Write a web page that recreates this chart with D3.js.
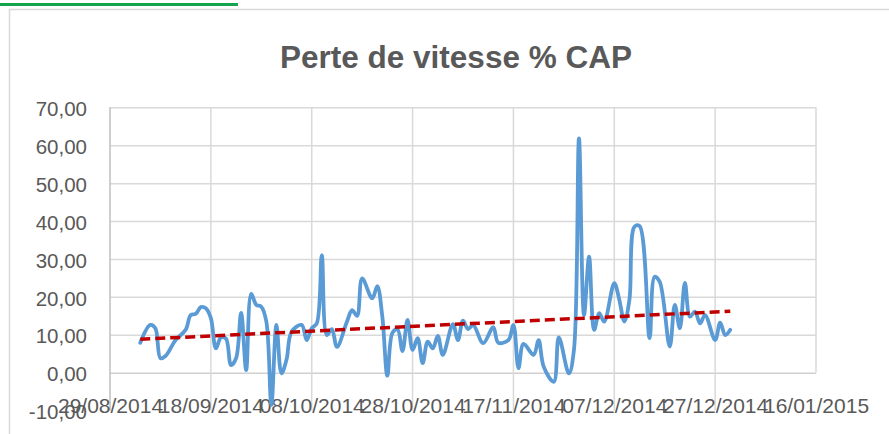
<!DOCTYPE html>
<html>
<head>
<meta charset="utf-8">
<script src="https://cdn.jsdelivr.net/npm/d3@7"></script>
<style>
  html, body { margin: 0; padding: 0; background: #fff; }
  svg { display: block; }
</style>
</head>
<body>
<svg id="chart" width="889" height="434"></svg>
<script>
// ---- data ----
const title = "Perte de vitesse % CAP";
const dates = [
  "04/09/2014","06/09/2014","07/09/2014","08/09/2014","09/09/2014","11/09/2014","13/09/2014","14/09/2014",
  "15/09/2014","16/09/2014","17/09/2014","18/09/2014","19/09/2014","20/09/2014","21/09/2014","22/09/2014",
  "23/09/2014","24/09/2014","25/09/2014","26/09/2014","27/09/2014","28/09/2014","29/09/2014","30/09/2014",
  "01/10/2014","02/10/2014","03/10/2014","04/10/2014","06/10/2014","07/10/2014","08/10/2014","09/10/2014",
  "10/10/2014","11/10/2014","12/10/2014","13/10/2014","15/10/2014","16/10/2014","17/10/2014","18/10/2014",
  "20/10/2014","21/10/2014","22/10/2014","23/10/2014","24/10/2014","25/10/2014","26/10/2014","27/10/2014",
  "28/10/2014","29/10/2014","30/10/2014","31/10/2014","01/11/2014","02/11/2014","03/11/2014","05/11/2014",
  "06/11/2014","07/11/2014","08/11/2014","09/11/2014","11/11/2014","13/11/2014","14/11/2014","16/11/2014",
  "17/11/2014","18/11/2014","19/11/2014","21/11/2014","22/11/2014","23/11/2014","25/11/2014","26/11/2014",
  "28/11/2014","29/11/2014","30/11/2014","01/12/2014","02/12/2014","03/12/2014","04/12/2014","05/12/2014",
  "07/12/2014","08/12/2014","09/12/2014","10/12/2014","11/12/2014","12/12/2014","14/12/2014","15/12/2014",
  "16/12/2014","18/12/2014","19/12/2014","20/12/2014","21/12/2014","22/12/2014","23/12/2014","24/12/2014",
  "25/12/2014","27/12/2014","28/12/2014","29/12/2014","30/12/2014"
];
const values = [
  7.9, 12.6, 11.7, 3.8, 4.4, 8.6, 11.3, 15.2,
  15.5, 17.3, 17.0, 14.4, 6.4, 9.3, 9.0, 2.0,
  3.8, 15.8, 0.7, 20.8, 17.9, 17.4, 13.5, -8.5,
  12.6, -0.2, 3.4, 10.8, 12.6, 8.6, 11.7, 13.0,
  31.0, 9.9, 11.5, 6.8, 13.5, 16.5, 15.0, 24.9,
  19.6, 22.8, 14.8, -0.8, 10.5, 11.5, 5.7, 13.9,
  6.0, 9.1, 2.5, 8.2, 6.4, 9.7, 4.7, 12.8,
  8.6, 13.7, 11.5, 12.6, 7.8, 12.0, 7.9, 8.6,
  12.6, 1.2, 7.6, 4.7, 8.6, 1.6, -2.4, 9.3,
  -0.2, 6.0, 61.8, 15.2, 30.6, 11.3, 15.7, 13.5,
  23.6, 19.2, 13.5, 19.2, 38.5, 38.7, 9.1, 25.3,
  24.0, 6.9, 17.9, 11.7, 23.7, 14.8, 16.1, 13.0,
  15.2, 8.6, 13.2, 9.9, 11.3
];
const xTickLabels = ["29/08/2014","18/09/2014","08/10/2014","28/10/2014","17/11/2014","07/12/2014","27/12/2014","16/01/2015"];
const yTicks = [-10, 0, 10, 20, 30, 40, 50, 60, 70];

// ---- drawing ----
(function () {
const parse = d3.timeParse("%d/%m/%Y");
const data = dates.map((d, i) => ({ date: parse(d), value: values[i] }));
const xTickDates = xTickLabels.map(parse);

const svg = d3.select("#chart");
const pL = 110, pR = 816, pT = 107.3, pB = 410.6;

const x = d3.scaleTime().domain([xTickDates[0], xTickDates[xTickDates.length - 1]]).range([pL, pR]);
const y = d3.scaleLinear().domain([-10, 70]).range([pB, pT]);

const fontFam = "'Liberation Sans', Arial, sans-serif";
const textCol = "#595959";

// top green strip and chart frame
svg.append("rect").attr("x", 0).attr("y", 3).attr("width", 238).attr("height", 3).attr("fill", "#14a44d");
svg.append("path").attr("d", "M9.5,440 V9.5 H895").attr("fill", "none").attr("stroke", "#d9d9d9").attr("stroke-width", 1.5);

// title
svg.append("text").attr("x", 456).attr("y", 68).attr("text-anchor", "middle")
  .attr("font-family", fontFam).attr("font-weight", "bold").attr("font-size", 31.5)
  .attr("fill", textCol).text(title);

// horizontal gridlines + y labels
const yAxisG = svg.append("g").attr("transform", `translate(${pL},0)`)
  .call(d3.axisLeft(y).tickValues(yTicks).tickSize(-(pR - pL)).tickPadding(23)
    .tickFormat(d => d3.format(".2f")(d).replace(".", ",").replace("\u2212", "-")));
yAxisG.select(".domain").remove();
yAxisG.selectAll(".tick line")
  .attr("stroke", d => d === 0 ? "#d0d0d0" : "#d9d9d9")
  .attr("stroke-width", 1.5)
  .attr("display", d => d === -10 ? "none" : null);
yAxisG.selectAll(".tick text")
  .attr("font-family", fontFam).attr("font-size", 20.5).attr("fill", textCol).attr("dy", "0.4em");

// vertical gridlines
svg.append("g").selectAll("line").data(xTickDates.slice(1)).join("line")
  .attr("x1", d => x(d)).attr("x2", d => x(d))
  .attr("y1", pT).attr("y2", (d, i) => i === xTickDates.length - 2 ? y(0) : pB)
  .attr("stroke", "#d9d9d9").attr("stroke-width", 1.5);

// left axis line
svg.append("line").attr("x1", pL).attr("x2", pL).attr("y1", pT).attr("y2", pB)
  .attr("stroke", "#bfbfbf").attr("stroke-width", 1.5);

// x labels (low position, overlapping the -10 row as in the reference)
const xAxisG = svg.append("g").attr("transform", `translate(0,${pB - 5})`)
  .call(d3.axisBottom(x).tickValues(xTickDates).tickSize(0).tickPadding(0)
    .tickFormat((d, i) => xTickLabels[i]));
xAxisG.select(".domain").remove();
xAxisG.selectAll(".tick text")
  .attr("font-family", fontFam).attr("font-size", 21).attr("fill", textCol).attr("dy", "0.35em");

// data line
const line = d3.line().x(d => x(d.date)).y(d => y(d.value)).curve(d3.curveCatmullRom.alpha(0.5));
svg.append("path").datum(data).attr("d", line)
  .attr("fill", "none").attr("stroke", "#5b9bd5").attr("stroke-width", 3.8)
  .attr("stroke-linejoin", "round").attr("stroke-linecap", "round");

// linear trend (least squares)
const xs = data.map(d => +d.date), ys = data.map(d => d.value);
const mx = d3.mean(xs), my = d3.mean(ys);
const slope = d3.sum(xs.map((v, i) => (v - mx) * (ys[i] - my))) / d3.sum(xs.map(v => (v - mx) ** 2));
const intercept = my - slope * mx;
const trend = [data[0].date, data[data.length - 1].date].map(d => ({ date: d, value: intercept + slope * (+d) }));
svg.append("path").datum(trend).attr("d", d3.line().x(d => x(d.date)).y(d => y(d.value)))
  .attr("fill", "none").attr("stroke", "#c00000").attr("stroke-width", 3.5)
  .attr("stroke-dasharray", "10,5");
})();
</script>
</body>
</html>
